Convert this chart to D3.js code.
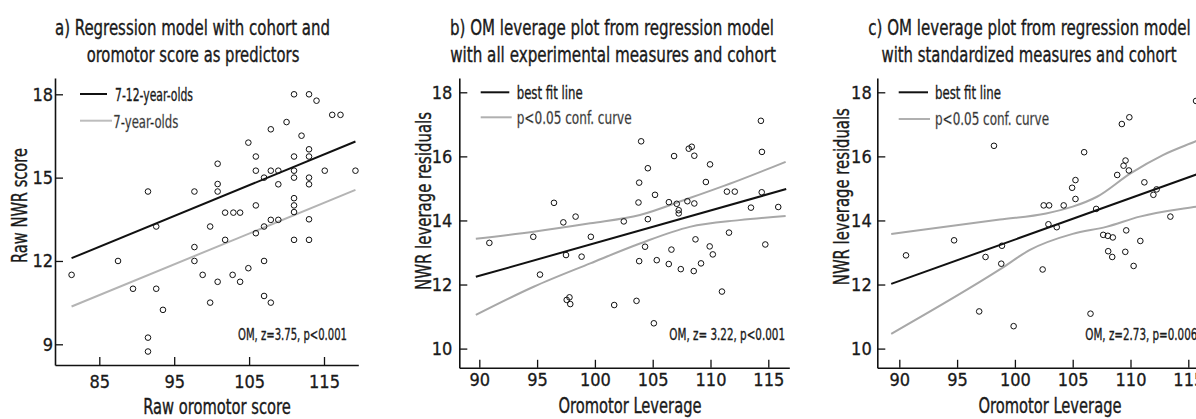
<!DOCTYPE html>
<html>
<head>
<meta charset="utf-8">
<script src="https://cdn.jsdelivr.net/npm/d3@7"></script>
<style>
  body { margin: 0; background: #fff; overflow: hidden; }
  svg text { font-family: "Liberation Sans Narrow", "Arial Narrow", "DejaVu Sans Condensed", sans-serif; fill: #1a1a1a; }
</style>
</head>
<body>
<div id="chart"></div>
<script>
// ---- panel a: raw scores, cohort + oromotor ----
const omA = [81.3, 87.5, 89.5, 91.5, 92.6, 92.6, 93.5, 91.5, 91.5, 97.7, 97.7, 97.7,
  100.8, 100.8, 100.8, 99.8, 98.8, 100.8, 99.8, 101.8, 101.8, 102.9, 103.8, 102.8, 103.8,
  104.9, 105.9, 105.9, 105.9, 105.9, 104.9, 107.0, 107.0, 107.0, 107.0, 107.9, 107.9, 107.9,
  107.9, 108.9, 108.9, 108.9, 110.0, 111.0, 111.0, 111.0, 111.0, 111.0, 111.0, 111.0, 111.0,
  112.0, 113.0, 114.0, 113.0, 113.0, 113.0, 113.0, 113.0, 113.0, 115.1, 116.1, 117.2, 119.2];
const nwrA = [11.5, 12.0, 11.0, 14.5, 13.24, 11.0, 10.24, 9.24, 8.74, 14.5, 12.5, 12.0,
  15.5, 14.77, 14.5, 13.24, 11.5, 11.25, 10.5, 12.76, 13.74, 13.74, 13.74, 11.5, 11.25,
  16.26, 15.76, 15.25, 14.0, 13.0, 11.74, 15.0, 13.24, 12.0, 10.74, 10.5, 16.74, 15.25,
  13.48, 13.48, 15.25, 14.76, 17.0, 18.0, 15.76, 15.25, 15.0, 14.26, 14.0, 13.76, 12.76,
  16.51, 18.0, 17.77, 16.02, 15.76, 15.0, 14.76, 13.5, 12.76, 15.25, 17.26, 17.26, 15.25];
const fitOlderX = [81.3, 119.2];
const fitOlderY = [12.1, 16.3];
const fitYoungX = [81.3, 119.2];
const fitYoungY = [10.36, 14.56];
const ticksAX = [85, 95, 105, 115];
const ticksAY = [9, 12, 15, 18];

// ---- panel b: leverage, all experimental measures ----
const omB = [90.87, 94.67, 95.25, 96.46, 97.27, 97.5, 98.33, 98.85, 99.65, 97.56, 97.8, 97.87,
  101.67, 102.5, 103.6, 104.0, 103.83, 103.77, 103.83, 104.34, 104.58, 104.58, 105.1, 105.2,
  105.35, 106.4, 106.39, 106.62, 106.85, 107.08, 107.25, 107.25, 107.43, 108.0, 108.12, 108.38,
  108.6, 108.6, 108.55, 108.7, 109.18, 109.6, 109.96, 109.93, 110.2, 110.99, 111.42, 112.1,
  111.6, 113.5, 114.36, 114.45, 114.43, 114.74, 115.86];
const nwrB = [13.3, 13.49, 12.31, 14.55, 13.94, 12.92, 14.12, 12.87, 13.49, 11.52, 11.6, 11.39,
  11.36, 13.97, 11.49, 16.47, 15.18, 14.56, 12.73, 13.18, 15.63, 14.04, 10.79, 14.8,
  12.76, 14.57, 12.64, 13.09, 16.01, 14.52, 14.32, 14.22, 12.48, 14.6, 16.24, 16.3,
  16.02, 14.53, 12.42, 13.41, 12.66, 15.2, 15.75, 13.19, 12.94, 11.78, 14.9, 14.9,
  13.62, 14.4, 17.11, 16.14, 14.88, 13.25, 14.42];
const fitBX = [89.7, 116.55];
const fitBY = [12.24, 14.98];
const confBX = [89.7, 94.7, 99.6, 103.9, 108.2, 112.5, 116.5];
const confBUpper = [13.43, 13.65, 13.91, 14.17, 14.7, 15.26, 15.83];
const confBLower = [11.05, 11.93, 12.66, 13.28, 13.8, 14.01, 14.14];

// ---- panel c: leverage, standardized measures ----
const omC = [90.58, 94.74, 96.91, 97.46, 98.19, 98.82, 98.88, 99.89, 102.4, 102.49, 102.96,
  102.9, 103.62, 104.22, 104.95, 105.24, 105.24, 105.99, 106.54, 107.03, 107.64, 108.04,
  108.47, 108.07, 108.42, 108.85, 109.25, 109.9, 109.4, 109.57, 109.86, 109.63, 109.55,
  110.27, 110.85, 111.2, 111.98, 112.26, 113.45, 115.67];
const nwrC = [12.91, 13.38, 11.16, 12.86, 16.33, 12.65, 13.21, 10.7, 12.47, 14.47, 14.47,
  13.88, 13.79, 14.47, 15.02, 15.26, 14.67, 16.13, 11.09, 14.36, 13.55, 13.52,
  13.47, 13.04, 12.86, 15.42, 17.01, 17.22, 15.71, 15.87, 15.56, 13.69, 13.02,
  12.58, 13.36, 15.19, 14.8, 14.97, 14.12, 17.73];
const fitCX = [89.3, 116.6];
const fitCY = [12.02, 15.55];
const confCUpperX = [89.3, 98.7, 102.7, 105.0, 107.1, 110.0, 112.8, 115.7, 117.0];
const confCUpper = [13.58, 14.03, 14.22, 14.43, 14.74, 15.47, 16.04, 16.48, 16.68];
const confCLowerX = [89.3, 98.7, 101.3, 105.0, 107.9, 110.8, 115.7, 117.0];
const confCLower = [10.46, 12.47, 13.08, 13.58, 13.8, 14.12, 14.43, 14.5];

const ticksLevX = [90, 95, 100, 105, 110, 115];
const ticksLevY = [10, 12, 14, 16, 18];

const W = 1196, H = 419;
const FONT = '"Liberation Sans Narrow", "Arial Narrow", "DejaVu Sans Condensed", sans-serif';
const svg = d3.select('#chart').append('svg').attr('width', W).attr('height', H);

// linear scale pinned to two tick positions, stretched to the axis extent
function anchored(v0, p0, v1, p1, pmin, pmax) {
  const s = d3.scaleLinear().domain([v0, v1]).range([p0, p1]);
  return d3.scaleLinear().domain([s.invert(pmin), s.invert(pmax)]).range([pmin, pmax]);
}

// squeeze text to the width measured on the reference, thicken it a little
function fitText(sel, len) {
  return sel.attr('textLength', len).attr('lengthAdjust', 'spacingAndGlyphs')
    .attr('stroke', sel.attr('fill') || '#1a1a1a').attr('stroke-width', 0.35);
}

function makePanel(p) {
  const g = svg.append('g');
  const x = anchored(p.xa[0], p.xa[1], p.xa[2], p.xa[3], p.left, p.right);
  const y = anchored(p.ya[0], p.ya[1], p.ya[2], p.ya[3], p.bottom, p.top);

  const xAxis = g.append('g').attr('transform', `translate(0,${p.bottom})`)
    .call(d3.axisBottom(x).tickValues(p.xTicks).tickSizeInner(-8).tickSizeOuter(0)
      .tickPadding(p.xPad).tickFormat(d3.format('d')));
  const yAxis = g.append('g').attr('transform', `translate(${p.left},0)`)
    .call(d3.axisLeft(y).tickValues(p.yTicks).tickSizeInner(-8).tickSizeOuter(0)
      .tickPadding(p.yPad).tickFormat(d3.format('d')));
  [xAxis, yAxis].forEach(a => {
    a.select('.domain').attr('stroke', '#111').attr('stroke-width', 1.6);
    a.selectAll('.tick line').attr('stroke', '#111').attr('stroke-width', 1.3);
    a.selectAll('.tick text').attr('font-size', 18).attr('fill', '#1a1a1a')
      .attr('stroke', '#1a1a1a').attr('stroke-width', 0.3)
      .style('font-family', FONT);
  });

  const line = d3.line().x(d => x(d[0])).y(d => y(d[1]));
  const curve = d3.line().x(d => x(d[0])).y(d => y(d[1])).curve(d3.curveMonotoneX);

  // grey lines first, black fit on top
  p.greyLines.forEach(l => {
    g.append('path').datum(d3.zip(l.x, l.y)).attr('d', l.smooth ? curve : line)
      .attr('fill', 'none').attr('stroke', l.color).attr('stroke-width', 2);
  });
  g.append('path').datum(d3.zip(p.fitX, p.fitY)).attr('d', line)
    .attr('fill', 'none').attr('stroke', '#111').attr('stroke-width', 2);

  g.selectAll('circle.pt').data(d3.zip(p.xs, p.ys)).enter().append('circle')
    .attr('class', 'pt')
    .attr('cx', d => x(d[0])).attr('cy', d => y(d[1])).attr('r', 2.8)
    .attr('fill', 'none').attr('stroke', '#111').attr('stroke-width', 1);

  // titles
  p.title.forEach(t => {
    fitText(g.append('text').attr('x', t.cx).attr('y', t.y).attr('text-anchor', 'middle')
      .attr('font-size', 21).text(t.text), t.len);
  });
  fitText(g.append('text').attr('x', p.xLabel.cx).attr('y', p.xLabel.y)
    .attr('text-anchor', 'middle').attr('font-size', 21).text(p.xLabel.text), p.xLabel.len);
  fitText(g.append('text')
    .attr('transform', `translate(${p.yLabel.x},${p.yLabel.cy}) rotate(-90)`)
    .attr('text-anchor', 'middle').attr('font-size', 21).text(p.yLabel.text), p.yLabel.len);

  // legend
  p.legend.forEach(l => {
    g.append('line').attr('x1', l.x1).attr('x2', l.x2).attr('y1', l.ly).attr('y2', l.ly)
      .attr('stroke', l.color).attr('stroke-width', 2);
    fitText(g.append('text').attr('x', l.tx).attr('y', l.ty).attr('font-size', 18)
      .attr('fill', l.textColor).text(l.text), l.len);
  });

  fitText(g.append('text').attr('x', p.note.x).attr('y', p.note.y).attr('font-size', 16)
    .text(p.note.text), p.note.len);
}

makePanel({
  left: 55, right: 358.3, top: 78, bottom: 365,
  xa: [85, 99.3, 115, 324], ya: [9, 344.3, 18, 94.3],
  xTicks: ticksAX, yTicks: ticksAY, xPad: 10, yPad: 2,
  xs: omA, ys: nwrA, fitX: fitOlderX, fitY: fitOlderY,
  greyLines: [{x: fitYoungX, y: fitYoungY, color: '#b4b4b4'}],
  title: [{text: 'a) Regression model with cohort and', cx: 192.5, y: 35, len: 275},
          {text: 'oromotor score as predictors', cx: 193, y: 62, len: 212.7}],
  xLabel: {text: 'Raw oromotor score', cx: 217, y: 414, len: 147.7},
  yLabel: {text: 'Raw NWR score', x: 27, cy: 205.5, len: 115},
  legend: [
    {x1: 80, x2: 107, ly: 94, color: '#111', tx: 115, ty: 100.7, text: '7-12-year-olds', len: 78, textColor: '#1a1a1a'},
    {x1: 80, x2: 112, ly: 120.7, color: '#bdbdbd', tx: 113.3, ty: 127.7, text: '7-year-olds', len: 65, textColor: '#8c8c8c'}
  ],
  note: {text: 'OM, z=3.75, p<0.001', x: 238, y: 340, len: 109}
});

makePanel({
  left: 459.3, right: 789.3, top: 78, bottom: 367.8,
  xa: [90, 479.3, 115, 768.3], ya: [10, 348.6, 18, 92.3],
  xTicks: ticksLevX, yTicks: ticksLevY, xPad: 5, yPad: 7,
  xs: omB, ys: nwrB, fitX: fitBX, fitY: fitBY,
  greyLines: [{x: confBX, y: confBUpper, color: '#a8a8a8', smooth: true},
              {x: confBX, y: confBLower, color: '#a8a8a8', smooth: true}],
  title: [{text: 'b) OM leverage plot from regression model', cx: 612, y: 35, len: 324},
          {text: 'with all experimental measures and cohort', cx: 613, y: 62, len: 325.7}],
  xLabel: {text: 'Oromotor Leverage', cx: 630, y: 413, len: 143},
  yLabel: {text: 'NWR leverage residuals', x: 431, cy: 201, len: 178},
  legend: [
    {x1: 480.7, x2: 509.3, ly: 92.3, color: '#111', tx: 516.7, ty: 99.3, text: 'best fit line', len: 66, textColor: '#1a1a1a'},
    {x1: 480.7, x2: 511.7, ly: 117.3, color: '#b0b0b0', tx: 516.7, ty: 124.3, text: 'p<0.05 conf. curve', len: 115, textColor: '#8c8c8c'}
  ],
  note: {text: 'OM, z= 3.22, p<0.001', x: 669.3, y: 340, len: 115.7}
});

makePanel({
  left: 877.3, right: 1209.3, top: 78, bottom: 367.8,
  xa: [90, 899.3, 115, 1188.3], ya: [10, 348.6, 18, 92.3],
  xTicks: ticksLevX, yTicks: ticksLevY, xPad: 5, yPad: 5.6,
  xs: omC, ys: nwrC, fitX: fitCX, fitY: fitCY,
  greyLines: [{x: confCUpperX, y: confCUpper, color: '#a8a8a8', smooth: true},
              {x: confCLowerX, y: confCLower, color: '#a8a8a8', smooth: true}],
  title: [{text: 'c) OM leverage plot from regression model', cx: 1029.5, y: 35, len: 322.3},
          {text: 'with standardized measures and cohort', cx: 1029, y: 62, len: 295}],
  xLabel: {text: 'Oromotor Leverage', cx: 1050, y: 413, len: 143},
  yLabel: {text: 'NWR leverage residuals', x: 849, cy: 196.7, len: 177},
  legend: [
    {x1: 898.7, x2: 928, ly: 92.3, color: '#111', tx: 935, ty: 99.3, text: 'best fit line', len: 66, textColor: '#1a1a1a'},
    {x1: 898.7, x2: 930, ly: 119, color: '#b0b0b0', tx: 935, ty: 124.5, text: 'p<0.05 conf. curve', len: 114, textColor: '#8c8c8c'}
  ],
  note: {text: 'OM, z=2.73, p=0.006', x: 1085.3, y: 340, len: 112}
});
</script>
</body>
</html>
